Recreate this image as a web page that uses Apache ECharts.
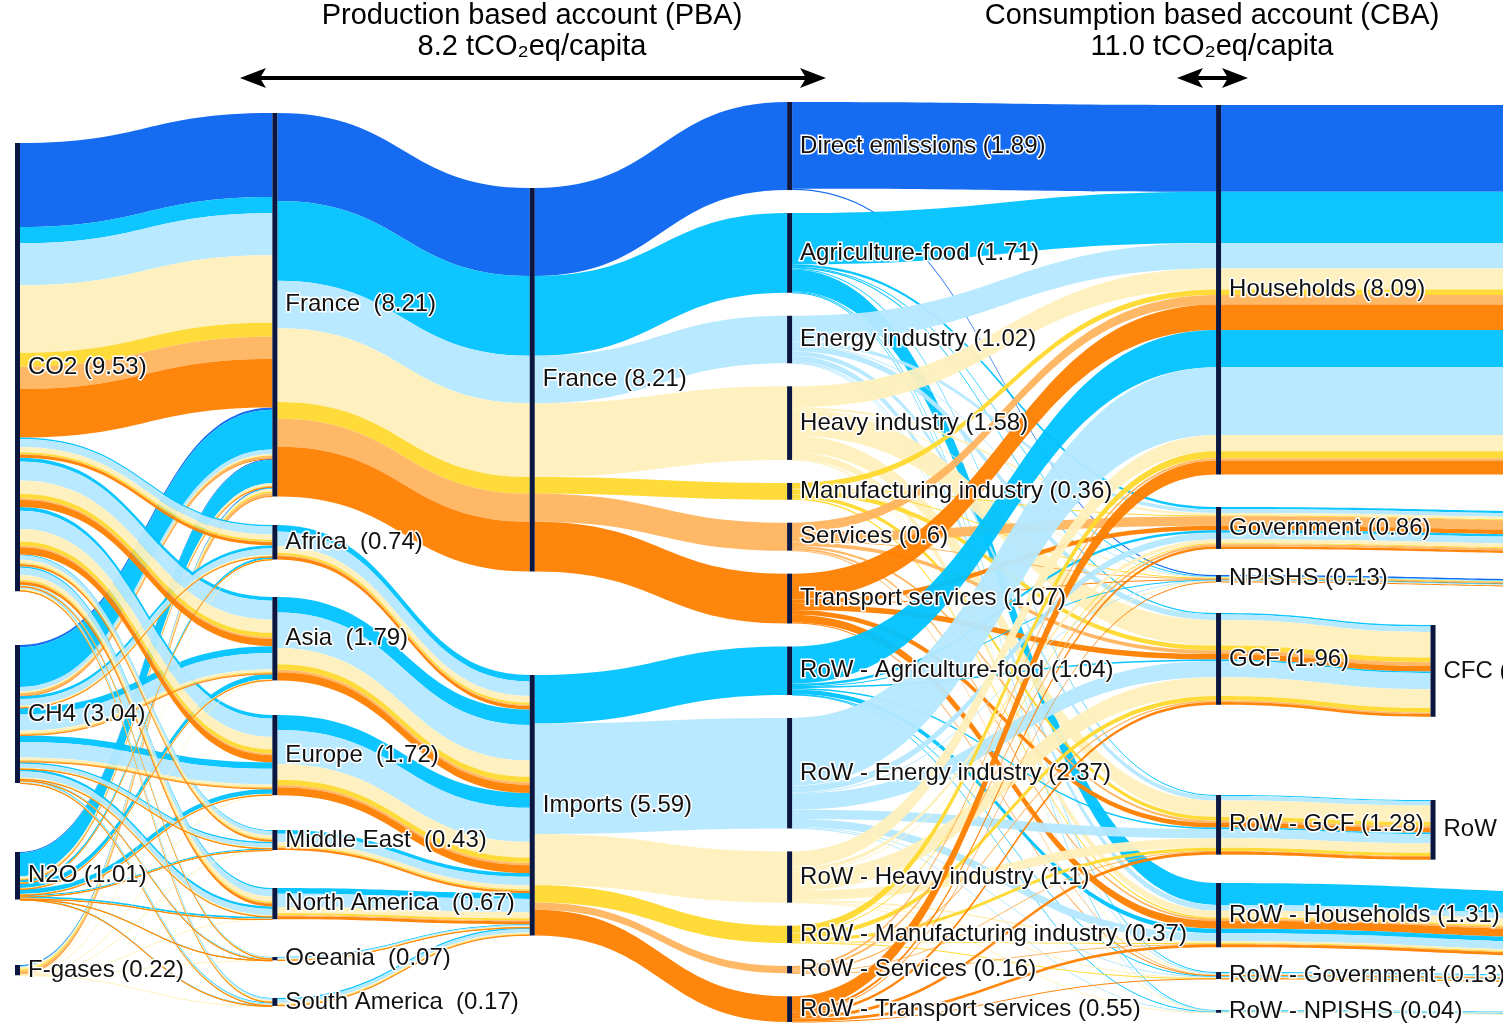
<!doctype html>
<html>
<head>
<meta charset="utf-8">
<title>PBA / CBA sankey</title>
<style>
html,body{margin:0;padding:0;background:#fff;}
#main{width:1503px;height:1029px;}
</style>
</head>
<body>
<div id="main"></div>
<script src="https://cdn.jsdelivr.net/npm/echarts@6/dist/echarts.min.js"></script>
<script>
var myChart = echarts.init(document.getElementById('main'));

var TOP = 102, H = 920;
// [name, top pixel in reference]
var gases = [['CO2 (9.53)', 143], ['CH4 (3.04)', 645], ['N2O (1.01)', 852], ['F-gases (0.22)', 965]];
// imports by region
var regions = [
  ['Africa  (0.74)', 0.74, 525], ['Asia  (1.79)', 1.79, 597], ['Europe  (1.72)', 1.72, 715],
  ['Middle East  (0.43)', 0.43, 830], ['North America  (0.67)', 0.67, 888],
  ['Oceania  (0.07)', 0.07, 957], ['South America  (0.17)', 0.17, 998]
];
var finals = [['Households (8.09)', 105], ['Government (0.86)', 507], ['NPISHS (0.13)', 575], ['GCF (1.96)', 613],
  ['RoW - GCF (1.28)', 795], ['RoW - Households (1.31)', 883], ['RoW - Government (0.13)', 972], ['RoW - NPISHS (0.04)', 1010]];
var conts = [['hh_c', 105], ['gov_c', 512], ['np_c', 580], ['CFC (1.96)', 625], ['RoW - CFC (1.28)', 800],
  ['rhh_c', 893], ['rgov_c', 975], ['rnp_c', 1012]];

// gas: CO2, CH4, N2O, F ; fd: same order as finals
var sectors = [
  {name: 'Direct emissions (1.89)', color: '#0a64f0', row: false, gas: [1.80, 0.05, 0.02, 0.02], fd: [1.86, 0, 0.03, 0, 0, 0, 0, 0]},
  {name: 'Agriculture-food (1.71)', color: '#00c3ff', row: false, gas: [0.35, 0.85, 0.50, 0.01], fd: [1.10, 0.05, 0.01, 0.03, 0.02, 0.47, 0.02, 0.01]},
  {name: 'Energy industry (1.02)', color: '#b5e8ff', row: false, gas: [0.90, 0.10, 0.01, 0.01], fd: [0.55, 0.08, 0.01, 0.12, 0.10, 0.12, 0.03, 0.01]},
  {name: 'Heavy industry (1.58)', color: '#fff0bc', row: false, gas: [1.45, 0.03, 0.05, 0.05], fd: [0.45, 0.05, 0.01, 0.55, 0.35, 0.15, 0.01, 0.01]},
  {name: 'Manufacturing industry (0.36)', color: '#ffd92e', row: false, gas: [0.30, 0.01, 0.01, 0.04], fd: [0.12, 0.02, 0.01, 0.10, 0.08, 0.03, 0, 0]},
  {name: 'Services (0.6)', color: '#ffb45e', row: false, gas: [0.48, 0.05, 0.01, 0.06], fd: [0.20, 0.20, 0.02, 0.08, 0.05, 0.04, 0.01, 0]},
  {name: 'Transport services (1.07)', color: '#ff8000', row: false, gas: [1.04, 0.01, 0.01, 0.01], fd: [0.55, 0.10, 0.01, 0.12, 0.10, 0.17, 0.02, 0]},
  {name: 'RoW - Agriculture-food (1.04)', color: '#00c3ff', row: true, gas: [0.25, 0.45, 0.34, 0], fd: [0.80, 0.05, 0.01, 0.03, 0.03, 0.10, 0.01, 0.01]},
  {name: 'RoW - Energy industry (2.37)', color: '#b5e8ff', row: true, gas: [1.27, 1.09, 0.01, 0], fd: [1.45, 0.15, 0.02, 0.35, 0.20, 0.17, 0.02, 0.01]},
  {name: 'RoW - Heavy industry (1.1)', color: '#fff0bc', row: true, gas: [0.88, 0.18, 0.02, 0.02], fd: [0.35, 0.08, 0.01, 0.40, 0.20, 0.04, 0.01, 0.01]},
  {name: 'RoW - Manufacturing industry (0.37)', color: '#ffd92e', row: true, gas: [0.30, 0.05, 0.02, 0], fd: [0.15, 0.02, 0, 0.10, 0.07, 0.02, 0.01, 0]},
  {name: 'RoW - Services (0.16)', color: '#ffb45e', row: true, gas: [0.10, 0.05, 0.01, 0], fd: [0.05, 0.05, 0, 0.03, 0.02, 0.01, 0, 0]},
  {name: 'RoW - Transport services (0.55)', color: '#ff8000', row: true, gas: [0.50, 0.04, 0.01, 0], fd: [0.30, 0.05, 0.01, 0.06, 0.06, 0.06, 0.01, 0]}
];

var nodes = [];
function addNode(name, depth, y, hide) {
  var n = {name: name, depth: depth};
  if (y != null) n.localY = (y - TOP) / H;
  if (hide) n.label = {show: false};
  nodes.push(n);
}
gases.forEach(function (g) { addNode(g[0], 0, g[1]); });
addNode('France  (8.21)', 6, 113);
regions.forEach(function (r) { addNode(r[0], 6, r[2]); });
addNode('France (8.21)', 12, 188);
addNode('Imports (5.59)', 12, 675);
sectors.forEach(function (s) { addNode(s.name, 18); });
finals.forEach(function (f) { addNode(f[0], 28, f[1]); });
conts.forEach(function (c, i) { var side = (i == 3 || i == 4); addNode(c[0], side ? 33 : 38, c[1], !side); });

var links = [];
function link(a, b, v, c) {
  if (v > 0.0001) links.push({source: a, target: b, value: v, lineStyle: {color: c}});
}
var regTotal = 5.59;
sectors.forEach(function (s) {
  var sum = s.gas.reduce(function (a, b) { return a + b; }, 0);
  if (!s.row) {
    s.gas.forEach(function (v, gi) { link(gases[gi][0], 'France  (8.21)', v, s.color); });
    link('France  (8.21)', 'France (8.21)', sum, s.color);
    link('France (8.21)', s.name, sum, s.color);
  } else {
    regions.forEach(function (r) {
      var sh = r[1] / regTotal;
      s.gas.forEach(function (v, gi) { link(gases[gi][0], r[0], v * sh, s.color); });
      link(r[0], 'Imports (5.59)', sum * sh, s.color);
    });
    link('Imports (5.59)', s.name, sum, s.color);
  }
  s.fd.forEach(function (v, fi) {
    link(s.name, finals[fi][0], v, s.color);
    link(finals[fi][0], conts[fi][0], v, s.color);
  });
});

function arrow(x1, x2, y) {
  return [
    {type: 'line', shape: {x1: x1 + 14, y1: y, x2: x2 - 14, y2: y}, style: {stroke: '#000', lineWidth: 4}},
    {type: 'polygon', shape: {points: [[x1, y], [x1 + 26, y - 10], [x1 + 20, y], [x1 + 26, y + 10]]}, style: {fill: '#000'}},
    {type: 'polygon', shape: {points: [[x2, y], [x2 - 26, y - 10], [x2 - 20, y], [x2 - 26, y + 10]]}, style: {fill: '#000'}}
  ];
}
var tStyle = {fontSize: 29, fontFamily: 'Liberation Sans, Arial', fill: '#000', textAlign: 'center'};
function txt(x, y, s) {
  return {type: 'text', x: x, y: y, style: Object.assign({text: s}, tStyle)};
}

var option = {
  animation: false,
  graphic: [].concat(
    txt(532, 1, 'Production based account (PBA)'),
    txt(532, 32, '8.2 tCO₂eq/capita'),
    txt(1212, 1, 'Consumption based account (CBA)'),
    txt(1212, 32, '11.0 tCO₂eq/capita'),
    arrow(240, 826, 78),
    arrow(1177, 1248, 78)
  ),
  series: {
    type: 'sankey',
    left: 15,
    top: TOP,
    width: 1635,
    height: H,
    nodeWidth: 5,
    nodeGap: 23,
    nodeAlign: 'left',
    layoutIterations: 0,
    draggable: false,
    emphasis: {disabled: true},
    itemStyle: {color: '#0b1740', borderWidth: 0},
    label: {
      position: 'right', distance: 8, fontSize: 24, color: '#111',
      fontFamily: 'Liberation Sans, Arial',
      textBorderColor: '#fff', textBorderWidth: 3
    },
    lineStyle: {opacity: 0.95, curveness: 0.5},
    data: nodes,
    links: links
  }
};
myChart.setOption(option);
</script>
</body>
</html>
